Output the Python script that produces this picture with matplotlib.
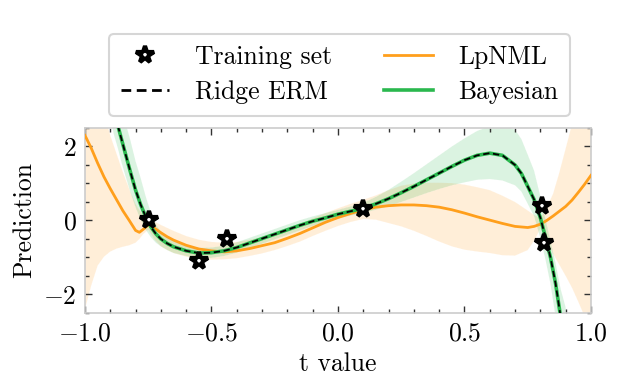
import numpy as np
import matplotlib
matplotlib.use("Agg")
import matplotlib.pyplot as plt
from matplotlib.ticker import MultipleLocator

plt.rcParams['font.family'] = 'serif'
plt.rcParams['font.serif'] = ['cmr10']
plt.rcParams['mathtext.fontset'] = 'cm'
plt.rcParams['axes.formatter.use_mathtext'] = True

# training points
train_t = [-0.748, -0.549, -0.44, 0.099, 0.807, 0.813]
train_y = [0.02, -1.09, -0.51, 0.30, 0.39, -0.61]

# LpNML (orange) curve and its band
lp_t = [-1.0, -0.975, -0.95, -0.925, -0.9, -0.875, -0.85, -0.825, -0.8, -0.785,
        -0.77, -0.75, -0.725, -0.7, -0.675, -0.65, -0.6, -0.55, -0.5, -0.45,
        -0.4, -0.35, -0.3, -0.25, -0.2, -0.15, -0.1, -0.05, 0.0, 0.05,
        0.1, 0.15, 0.2, 0.25, 0.3, 0.35, 0.4, 0.45, 0.5, 0.55,
        0.6, 0.65, 0.7, 0.75, 0.775, 0.8, 0.825, 0.85, 0.875, 0.9,
        0.925, 0.95, 0.975, 1.0]
lp_mean = [2.30, 1.95, 1.55, 1.18, 0.86, 0.56, 0.26, 0.0, -0.27, -0.32,
           -0.24, -0.12, -0.21, -0.33, -0.44, -0.53, -0.67, -0.77, -0.82, -0.85,
           -0.82, -0.76, -0.68, -0.60, -0.48, -0.35, -0.20, -0.05, 0.08, 0.19,
           0.29, 0.36, 0.40, 0.42, 0.42, 0.40, 0.36, 0.29, 0.20, 0.10,
           0.01, -0.08, -0.16, -0.19, -0.16, -0.10, 0.0, 0.12, 0.25, 0.38,
           0.55, 0.76, 0.98, 1.22]
lp_upper = [5.0, 4.4, 3.6, 2.9, 2.3, 1.8, 1.3, 0.85, 0.45, 0.28,
            0.16, 0.08, -0.03, -0.12, -0.20, -0.28, -0.42, -0.52, -0.58, -0.60,
            -0.58, -0.52, -0.45, -0.35, -0.22, -0.10, 0.06, 0.20, 0.33, 0.45,
            0.56, 0.68, 0.82, 0.94, 1.00, 1.02, 1.02, 1.01, 0.97, 0.90,
            0.82, 0.67, 0.50, 0.27, 0.15, 0.06, 0.35, 0.72, 1.30, 1.95,
            2.6, 3.4, 4.2, 5.0]
lp_lower = [-2.40, -1.75, -1.22, -0.98, -0.84, -0.76, -0.71, -0.67, -0.60, -0.50,
            -0.37, -0.25, -0.52, -0.70, -0.80, -0.88, -0.98, -1.04, -1.06, -1.05,
            -1.02, -0.96, -0.89, -0.80, -0.69, -0.57, -0.42, -0.28, -0.15, -0.04,
            0.04, 0.02, -0.07, -0.16, -0.28, -0.42, -0.57, -0.70, -0.79, -0.84,
            -0.88, -0.94, -0.95, -0.80, -0.55, -0.22, -0.55, -0.90, -1.20, -1.50,
            -1.82, -2.20, -2.60, -3.0]

# Bayesian (green) curve and its band; Ridge ERM follows the same curve
bay_t = [-0.9, -0.885, -0.87, -0.855, -0.84, -0.82, -0.8, -0.78, -0.76, -0.74,
         -0.72, -0.7, -0.675, -0.65, -0.6, -0.55, -0.5, -0.45, -0.4, -0.35,
         -0.3, -0.25, -0.2, -0.15, -0.1, -0.05, 0.0, 0.05, 0.1, 0.15,
         0.2, 0.25, 0.3, 0.35, 0.4, 0.45, 0.5, 0.55, 0.6, 0.65,
         0.7, 0.725, 0.75, 0.775, 0.8, 0.82, 0.84, 0.86, 0.88, 0.9]
bay_mean = [3.35, 2.95, 2.56, 2.18, 1.80, 1.30, 0.82, 0.43, 0.10, -0.17,
            -0.36, -0.50, -0.62, -0.71, -0.82, -0.88, -0.87, -0.82, -0.73, -0.61,
            -0.49, -0.37, -0.25, -0.13, -0.02, 0.07, 0.17, 0.25, 0.33, 0.45,
            0.59, 0.75, 0.92, 1.10, 1.28, 1.46, 1.63, 1.76, 1.82, 1.76,
            1.50, 1.27, 0.92, 0.57, 0.07, -0.45, -1.00, -1.70, -2.60, -3.60]
bay_upper = [4.6, 4.1, 3.55, 3.1, 2.65, 2.15, 1.6, 1.15, 0.65, 0.22,
             -0.10, -0.30, -0.45, -0.55, -0.68, -0.74, -0.73, -0.68, -0.59, -0.47,
             -0.35, -0.23, -0.11, 0.01, 0.11, 0.20, 0.29, 0.38, 0.48, 0.64,
             0.83, 1.05, 1.28, 1.52, 1.76, 2.00, 2.22, 2.42, 2.55, 2.58,
             2.45, 2.20, 1.78, 1.35, 0.65, 0.05, -0.55, -1.15, -1.85, -2.35]
bay_lower = [2.75, 2.3, 1.95, 1.55, 1.2, 0.75, 0.35, 0.02, -0.25, -0.45,
             -0.60, -0.70, -0.80, -0.88, -0.96, -1.02, -1.01, -0.96, -0.87, -0.75,
             -0.63, -0.51, -0.39, -0.27, -0.15, -0.06, 0.05, 0.13, 0.20, 0.29,
             0.39, 0.50, 0.62, 0.74, 0.85, 0.95, 1.03, 1.10, 1.12, 1.08,
             0.95, 0.78, 0.45, 0.12, -0.48, -1.05, -1.72, -2.60, -3.50, -4.50]

orange = '#ff9f1c'
green = '#2ab84e'
fs = 18.5

fig = plt.figure(figsize=(6.4, 3.76), dpi=100)
ax = fig.add_axes([0.1328, 0.1676, 0.7906, 0.492])

ax.fill_between(lp_t, lp_lower, lp_upper, facecolor=orange, alpha=0.17,
                edgecolor='white', lw=0.6, ls='--')
ax.fill_between(bay_t, bay_lower, bay_upper, facecolor=green, alpha=0.17,
                edgecolor='white', lw=0.6, ls='--')
ax.plot(lp_t, lp_mean, color=orange, lw=2, label='LpNML', zorder=3)
ax.plot(bay_t, bay_mean, color=green, lw=2.6, label='Bayesian', zorder=4)
ax.plot(bay_t, bay_mean, color='black', lw=1.3, ls=(0, (3.5, 2)), label='Ridge ERM', zorder=5)
ax.plot(train_t, train_y, ls='none', marker='*', ms=13, mfc='white', mec='black',
        mew=3, label='Training set', zorder=6)

ax.set_xlim(-1, 1)
ax.set_ylim(-2.5, 2.5)
ax.xaxis.set_major_locator(MultipleLocator(0.5))
ax.xaxis.set_minor_locator(MultipleLocator(0.1))
ax.yaxis.set_major_locator(MultipleLocator(2))
ax.yaxis.set_minor_locator(MultipleLocator(0.5))
ax.tick_params(which='both', direction='in', top=True, right=True, labelsize=fs, color='#333333')
ax.tick_params(which='major', length=5, width=1, pad=6)
ax.tick_params(which='minor', length=3, width=1)
for s in ax.spines.values():
    s.set_color('#cccccc')
    s.set_linewidth(1.2)

ax.set_xlabel('t value', fontsize=fs, labelpad=5)
ax.set_ylabel('Prediction', fontsize=fs, labelpad=5)

h, l = ax.get_legend_handles_labels()
order = [3, 2, 0, 1]
handles = [h[i] for i in order]
leg = ax.legend(handles, [l[i] for i in order], ncol=2, loc='lower center',
                bbox_to_anchor=(0.503, 1.065), borderaxespad=0, fontsize=fs, frameon=True,
                edgecolor='#cccccc', handlelength=1.9, columnspacing=2.0,
                borderpad=0.45, labelspacing=0.45, handletextpad=1.0)
leg.get_frame().set_linewidth(1.5)
leg.get_lines()[1].set_linewidth(2)

fig.savefig('out.png', dpi=100)
